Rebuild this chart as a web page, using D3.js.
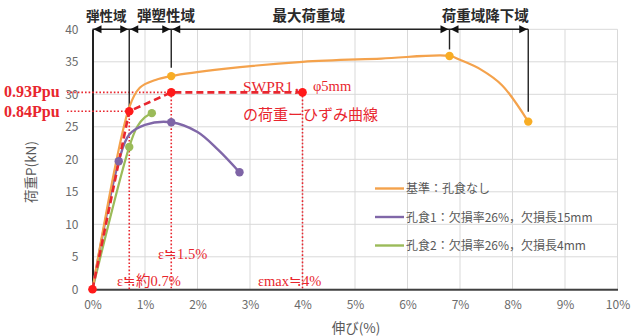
<!DOCTYPE html>
<html>
<head>
<meta charset="utf-8">
<script src="https://cdn.jsdelivr.net/npm/d3@7"></script>
<style>
  html, body { margin: 0; padding: 0; background: #fff; }
  svg { display: block; }
  text { font-family: "Noto Sans CJK JP", "Noto Sans", sans-serif; }
  .serif { font-family: "Liberation Serif", "Noto Sans CJK JP", serif; }
</style>
</head>
<body>
<svg id="chart" width="635" height="336"></svg>
<script>
// Load–elongation curves (elongation in %, load in kN)
const baseCurve   = [[0,0],[0.7,28.0],[0.9,31.0],[1.2,32.2],[1.5,32.8],[2.5,33.9],[4.0,35.0],[5.5,35.5],[6.8,35.9],[7.0,35.3],[7.4,33.8],[7.8,31.4],[8.3,25.8]];
const baseMarks   = [[1.5,32.8],[6.8,35.9],[8.3,25.8]];
const pit1Curve   = [[0,0],[0.5,19.7],[0.7,23.8],[1.0,25.3],[1.5,25.7],[2.0,24.2],[2.4,21.4],[2.8,18.0]];
const pit1Marks   = [[0.5,19.7],[1.5,25.7],[2.8,18.0]];
const pit2Curve   = [[0,0],[0.7,21.9],[0.85,25.0],[1.0,26.5],[1.13,27.1]];
const pit2Marks   = [[0.7,21.9],[1.13,27.1]];
// Idealised SWPR1 φ5mm load–strain curve
const modelCurve  = [[0,0],[0.7,27.4],[1.5,30.3],[4.0,30.3]];

// Axis ticks
const xTicks = [0,1,2,3,4,5,6,7,8,9,10];
const xTickLabels = ["0%","1%","2%","3%","4%","5%","6%","7%","8%","9%","10%"];
const yTicks = [0,5,10,15,20,25,30,35,40];

// Region brackets across the top
const regionBounds = [0, 0.7, 1.5, 6.8, 8.3];
const regionDrop   = [0, 27.9, 34.1, 36.9, 27.3];   // load where each boundary line stops
const regionNames  = ["弾性域", "弾塑性域", "最大荷重域", "荷重域降下域"];
const regionLabelAt = [0.26, 1.40, 4.12, 7.48];     // elongation at the centre of each region name

// Legend
const legendNames  = ["基準：孔食なし", "孔食1：欠損率26%，欠損長15mm", "孔食2：欠損率26%，欠損長4mm"];
const legendColors = ["#f4a24c", "#8067a8", "#9bbb59"];

// Reference levels on the model curve
const levelValues = [30.3, 27.4];
const levelLabels = ["0.93Ppu", "0.84Ppu"];

const svg = d3.select("#chart");
const x = d3.scaleLinear().domain([0, 10]).range([92.5, 617.5]);
const y = d3.scaleLinear().domain([0, 40]).range([289.3, 29.3]);

// Grid
const grid = svg.append("g");
grid.selectAll(".gx").data(xTicks).join("line")
  .attr("x1", d => x(d)).attr("x2", d => x(d))
  .attr("y1", y(40)).attr("y2", y(0))
  .attr("stroke", "#d9d9d9").attr("stroke-width", 1);
grid.selectAll(".gy").data(yTicks).join("line")
  .attr("x1", x(0)).attr("x2", x(10))
  .attr("y1", d => y(d)).attr("y2", d => y(d))
  .attr("stroke", "#d9d9d9").attr("stroke-width", 1);

// Axes
const xAxis = d3.axisBottom(x).tickValues(xTicks).tickFormat((d, i) => xTickLabels[i]).tickSize(0).tickPadding(11);
const yAxis = d3.axisLeft(y).tickValues(yTicks).tickSize(0).tickPadding(14);
const gx = svg.append("g").attr("transform", `translate(0,${y(0)})`).call(xAxis);
gx.select(".domain").attr("stroke", "#404040").attr("stroke-width", 2);
gx.selectAll("text").attr("fill", "#6b6b6b").attr("font-size", 12).attr("font-family", "Noto Sans, sans-serif");
const gy = svg.append("g").attr("transform", `translate(${x(0)},0)`).call(yAxis);
gy.select(".domain").attr("stroke", "#222").attr("stroke-width", 2);
gy.selectAll("text").attr("fill", "#6b6b6b").attr("font-size", 12).attr("font-family", "Noto Sans, sans-serif");

// Axis titles
svg.append("text").attr("transform", `translate(36,172) rotate(-90)`)
  .attr("text-anchor", "middle").attr("font-size", 13.5).attr("fill", "#595959").text("荷重P(kN)");
svg.append("text").attr("x", 356).attr("y", 333)
  .attr("text-anchor", "middle").attr("font-size", 13.5).attr("fill", "#595959").text("伸び(%)");

// Red dotted guides
const red = "#e8262e";
const guides = svg.append("g").attr("stroke", red).attr("stroke-width", 1.6).attr("stroke-dasharray", "1.6,2").attr("fill", "none");
guides.append("line").attr("x1", 67).attr("x2", x(1.5)).attr("y1", y(levelValues[0])).attr("y2", y(levelValues[0]));
guides.append("line").attr("x1", 67).attr("x2", x(0.7)).attr("y1", y(levelValues[1])).attr("y2", y(levelValues[1]));
[[0.7, 27.4], [1.5, 30.3], [4.0, 30.3]].forEach(([ex, ey]) => {
  guides.append("line").attr("x1", x(ex)).attr("x2", x(ex)).attr("y1", y(ey)).attr("y2", y(0));
});

// Region bracket lines
const br = svg.append("g").attr("stroke", "#222").attr("stroke-width", 1.4);
br.append("line").attr("x1", x(regionBounds[0])).attr("x2", x(regionBounds[4])).attr("y1", y(40)).attr("y2", y(40));
regionBounds.slice(1).forEach((b, i) => {
  br.append("line").attr("x1", x(b)).attr("x2", x(b)).attr("y1", y(40)).attr("y2", y(regionDrop[i + 1]));
});
// arrowheads
const ah = svg.append("g").attr("fill", "#111");
for (let i = 0; i < regionNames.length; i++) {
  const a = x(regionBounds[i]) + 1, b = x(regionBounds[i + 1]) - 1, yy = y(40);
  ah.append("path").attr("d", `M${a},${yy} L${a + 8},${yy - 4} L${a + 8},${yy + 4} Z`);
  ah.append("path").attr("d", `M${b},${yy} L${b - 8},${yy - 4} L${b - 8},${yy + 4} Z`);
}
svg.append("g").selectAll("text").data(regionNames).join("text")
  .attr("x", (d, i) => x(regionLabelAt[i]))
  .attr("y", 21).attr("text-anchor", "middle").attr("font-size", (d, i) => i === 0 ? 13.5 : 14.5).attr("font-weight", 700)
  .attr("fill", "#2a2a2a").text(d => d);

// Curves
const line = d3.line().x(d => x(d[0])).y(d => y(d[1])).curve(d3.curveCatmullRom.alpha(0.5));
const lineStraight = d3.line().x(d => x(d[0])).y(d => y(d[1]));
svg.append("path").datum(pit2Curve).attr("d", line).attr("fill", "none").attr("stroke", legendColors[2]).attr("stroke-width", 2.2);
svg.append("path").datum(pit1Curve).attr("d", line).attr("fill", "none").attr("stroke", legendColors[1]).attr("stroke-width", 2.4);
svg.append("path").datum(baseCurve).attr("d", line).attr("fill", "none").attr("stroke", legendColors[0]).attr("stroke-width", 2.2);
svg.append("path").datum(modelCurve).attr("d", lineStraight).attr("fill", "none").attr("stroke", red)
  .attr("stroke-width", 2.6).attr("stroke-dasharray", "7,4");

// Markers
const dots = (data, color, r) => svg.append("g").selectAll("circle").data(data).join("circle")
  .attr("cx", d => x(d[0])).attr("cy", d => y(d[1])).attr("r", r).attr("fill", color);
dots(pit2Marks, "#9bbb59", 4.2);
dots(pit1Marks, "#7e64a6", 4.2);
dots(baseMarks, "#f8ad25", 4.2);
dots(modelCurve, "#ff1a1a", 4.3);

// Red annotation text
const ann = svg.append("g").attr("fill", red);
levelLabels.forEach((t, i) => {
  ann.append("text").attr("class", "serif").attr("x", 4).attr("y", y(levelValues[i]) + (i === 0 ? 5 : 6))
    .attr("font-size", 16).attr("font-weight", 700).text(t);
});
ann.append("text").attr("class", "serif").attr("x", 243).attr("y", 92).attr("font-size", 15.5).text("SWPR1，");
ann.append("text").attr("class", "serif").attr("x", 313).attr("y", 91).attr("font-size", 14.5).text("φ5mm");
ann.append("text").attr("x", 243).attr("y", 120).attr("font-size", 15).attr("font-weight", 400).text("の荷重ーひずみ曲線");
ann.append("text").attr("class", "serif").attr("x", 158).attr("y", 259).attr("font-size", 14.5).text("ε≒1.5%");
ann.append("text").attr("class", "serif").attr("x", 117).attr("y", 286).attr("font-size", 14.5).text("ε≒約0.7%");
ann.append("text").attr("class", "serif").attr("x", 258).attr("y", 286).attr("font-size", 14.5).text("εmax≒4%");

// Legend
const lg = svg.append("g");
legendNames.forEach((t, i) => {
  const ly = 188.5 + i * 28.5;
  lg.append("line").attr("x1", 375).attr("x2", 404).attr("y1", ly).attr("y2", ly)
    .attr("stroke", legendColors[i]).attr("stroke-width", 2.4);
  lg.append("text").attr("x", 406).attr("y", ly + 4.5).attr("font-size", 12).attr("fill", "#595959").text(t);
});
</script>
</body>
</html>
